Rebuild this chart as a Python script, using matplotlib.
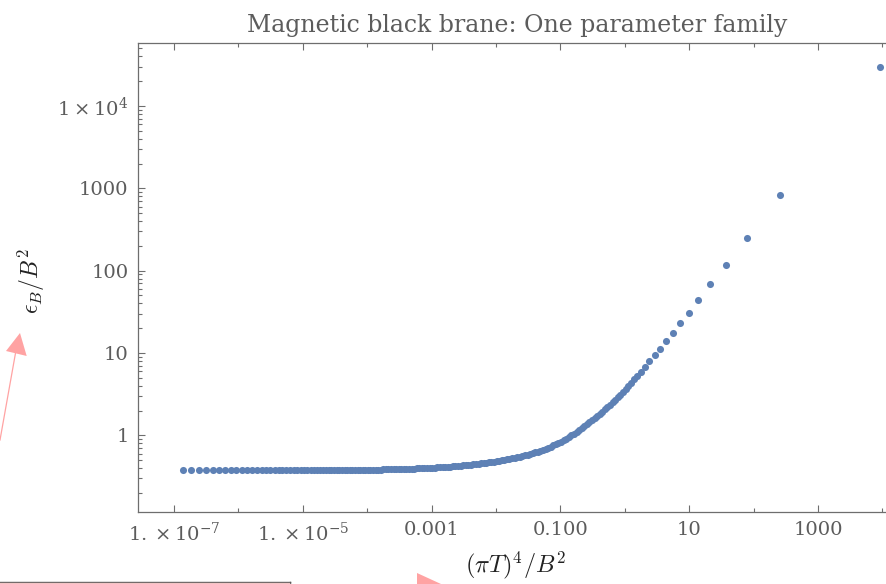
import matplotlib
matplotlib.use("Agg")
import matplotlib.pyplot as plt
from matplotlib.ticker import FixedLocator, LogLocator, NullFormatter
from matplotlib.patches import Polygon
from matplotlib.lines import Line2D

# (pi T)^4 / B^2 along the one-parameter family of magnetic black branes
temp_ratio = [
    # low temperature branch
    1.39e-7, 1.84e-7, 2.44e-7, 3.14e-7, 4.04e-7, 5.05e-7, 6.19e-7, 7.67e-7, 9.18e-7,
    1.12e-6, 1.35e-6, 1.63e-6, 1.95e-6, 2.29e-6, 2.69e-6, 3.13e-6, 3.64e-6, 4.20e-6,
    4.84e-6, 5.55e-6, 6.32e-6, 7.19e-6, 8.18e-6, 9.27e-6,
    1.04e-5, 1.17e-5, 1.32e-5, 1.47e-5, 1.64e-5, 1.83e-5, 2.04e-5, 2.26e-5, 2.51e-5,
    2.77e-5, 3.05e-5, 3.36e-5, 3.70e-5, 4.06e-5,
    4.45e-5, 4.90e-5, 5.37e-5, 5.89e-5, 6.46e-5, 7.08e-5, 7.76e-5, 8.51e-5, 9.33e-5,
    # crossover region
    1.02e-4, 1.12e-4, 1.23e-4, 1.35e-4, 1.48e-4, 1.62e-4, 1.78e-4, 1.95e-4, 2.14e-4,
    2.34e-4, 2.57e-4, 2.82e-4, 3.09e-4, 3.39e-4, 3.72e-4, 4.07e-4, 4.47e-4, 4.90e-4,
    5.37e-4, 5.89e-4, 6.46e-4, 7.08e-4, 7.76e-4, 8.51e-4, 9.33e-4,
    1.02e-3, 1.12e-3, 1.23e-3, 1.35e-3, 1.48e-3, 1.62e-3, 1.78e-3, 1.95e-3, 2.14e-3,
    2.34e-3, 2.57e-3, 2.82e-3, 3.09e-3, 3.39e-3, 3.72e-3, 4.07e-3, 4.47e-3, 4.90e-3,
    5.37e-3, 5.89e-3, 6.46e-3, 7.08e-3, 7.76e-3, 8.51e-3, 9.33e-3,
    1.02e-2, 1.12e-2, 1.23e-2, 1.35e-2, 1.48e-2, 1.62e-2, 1.78e-2, 1.95e-2, 2.14e-2,
    2.34e-2, 2.57e-2, 2.82e-2, 3.09e-2, 3.39e-2, 3.72e-2, 4.07e-2, 4.47e-2, 4.90e-2,
    5.37e-2, 5.89e-2, 6.46e-2, 7.08e-2, 7.76e-2, 8.51e-2, 9.33e-2,
    0.102, 0.112, 0.123, 0.135, 0.148, 0.162, 0.178, 0.195, 0.214,
    0.234, 0.257, 0.282, 0.309, 0.339, 0.372, 0.407, 0.447, 0.490,
    0.537, 0.589, 0.646, 0.708, 0.776, 0.851, 0.933,
    1.03, 1.14, 1.27, 1.41, 1.57,
    # high temperature branch
    1.77, 2.06, 2.40, 2.91, 3.52, 4.41, 5.60, 7.28, 9.82,
    13.9, 21.3, 37.3, 78.2, 260.0, 9270.0,
]

# epsilon_B / B^2 at the same points
energy_ratio = [
    0.3787, 0.3787, 0.3787, 0.3787, 0.3787, 0.3787, 0.3787, 0.3787, 0.3787,
    0.3787, 0.3787, 0.3787, 0.3787, 0.3787, 0.3787, 0.3787, 0.3787, 0.3787,
    0.3787, 0.3787, 0.3787, 0.3787, 0.3787, 0.3787,
    0.3788, 0.3788, 0.3789, 0.3790, 0.3791, 0.3793, 0.3794, 0.3795, 0.3797,
    0.3798, 0.3800, 0.3801, 0.3803, 0.3805,
    0.3807, 0.3808, 0.3810, 0.3812, 0.3813, 0.3815, 0.3817, 0.3819, 0.3821,
    0.3823, 0.3826, 0.3829, 0.3832, 0.3836, 0.3840, 0.3845, 0.3851, 0.3857,
    0.3863, 0.3870, 0.3877, 0.3885, 0.3894, 0.3902, 0.3912, 0.3922, 0.3932,
    0.3943, 0.3955, 0.3966, 0.3979, 0.3992, 0.4005, 0.4020,
    0.4034, 0.4050, 0.4067, 0.4085, 0.4105, 0.4125, 0.4147, 0.4170, 0.4195,
    0.4220, 0.4247, 0.4275, 0.4305, 0.4336, 0.4369, 0.4403, 0.4439, 0.4476,
    0.4516, 0.4558, 0.4601, 0.4647, 0.4695, 0.4745, 0.4798,
    0.4853, 0.4912, 0.4974, 0.5039, 0.5107, 0.5178, 0.5254, 0.5335, 0.5421,
    0.5513, 0.5611, 0.5715, 0.5825, 0.5942, 0.6067, 0.6203, 0.6351, 0.6511,
    0.6683, 0.6869, 0.7069, 0.7288, 0.7524, 0.7784, 0.8069,
    0.8381, 0.8721, 0.9096, 0.9505, 0.9954, 1.044, 1.097, 1.153, 1.215,
    1.282, 1.355, 1.435, 1.521, 1.614, 1.715, 1.823, 1.941, 2.069,
    2.207, 2.357, 2.521, 2.701, 2.899, 3.116, 3.355,
    3.639, 3.963, 4.353, 4.773, 5.267,
    5.88, 6.76, 7.93, 9.38, 11.3, 14.1, 17.6, 23.0, 30.9,
    44.4, 68.0, 117.0, 248.0, 832.0, 30100.0,
]

x_ticks = [1e-7, 1e-5, 1e-3, 1e-1, 1e1, 1e3]
x_tick_labels = [r"$1.\times10^{-7}$", r"$1.\times10^{-5}$", "0.001", "0.100", "10", "1000"]
x_minor = [1e-6, 1e-4, 1e-2, 1e0, 1e2, 1e4]
y_ticks = [1, 10, 100, 1000, 1e4]
y_tick_labels = ["1", "10", "100", "1000", r"$1\times10^{4}$"]

plt.rcParams["font.family"] = ["DejaVu Serif"]
plt.rcParams["mathtext.fontset"] = "custom"
plt.rcParams["mathtext.rm"] = "DejaVu Serif"
plt.rcParams["mathtext.it"] = "DejaVu Serif:italic"
plt.rcParams["mathtext.bf"] = "DejaVu Serif:bold"

W, H = 887, 584
frame_col = "#6e6e6e"
text_col = "#5c5c5c"
dot_col = "#5E81B5"

fig = plt.figure(figsize=(W / 100, H / 100), dpi=100)
ax = fig.add_axes([138.3 / W, 1 - 511.7 / H, (896.7 - 138.3) / W, (511.7 - 43) / H])

ax.plot(temp_ratio, energy_ratio, "o", ms=5.1, color=dot_col, mec="none")

ax.set_xscale("log")
ax.set_yscale("log")
ax.set_xlim(2.79e-8, 1.67e4)
ax.set_ylim(0.118, 5.83e4)

ax.set_xticks(x_ticks, x_tick_labels)
ax.xaxis.set_minor_locator(FixedLocator(x_minor))
ax.xaxis.set_minor_formatter(NullFormatter())
ax.set_yticks(y_ticks, y_tick_labels)
ax.yaxis.set_minor_locator(LogLocator(base=10, subs=range(2, 10)))
ax.yaxis.set_minor_formatter(NullFormatter())

ax.tick_params(which="both", direction="in", top=True, right=False,
               color=frame_col, labelcolor=text_col, labelsize=14, width=0.8)
ax.tick_params(which="major", length=5.2, pad=7)
ax.tick_params(which="minor", length=2.8)
for s in ax.spines.values():
    s.set_color(frame_col)
    s.set_linewidth(0.9)

fig.text(517.5 / W, 1 - 31.7 / H, "Magnetic black brane: One parameter family",
         ha="center", va="baseline", fontsize=17, color=text_col)
fig.text(516 / W, 1 - 565 / H, r"$(\pi T)^4/B^2$", ha="center", va="center",
         fontsize=17.5, color="#222222", math_fontfamily="cm")
fig.text(31 / W, 1 - 281 / H, r"$\epsilon_B/B^2$", ha="center", va="center",
         rotation=90, fontsize=17, color="#222222", math_fontfamily="cm")


def px(x, y):
    return (x / W, 1 - y / H)


# pink pointer marks drawn over the figure
pink = "#FFA3A3"
fig.add_artist(Line2D([0, 15.7 / W], [1 - 440 / H, 1 - 352 / H], color=pink, lw=0.9))
fig.add_artist(Polygon([px(20, 333), px(6, 351), px(26.7, 356)], closed=True,
                       transform=fig.transFigure, color=pink, lw=0))
fig.add_artist(Polygon([px(417, 573), px(441, 584), px(417, 584)], closed=True,
                       transform=fig.transFigure, color=pink, lw=0))
fig.add_artist(Line2D([0, 290 / W], [1 - 581.8 / H] * 2, color="#555555", lw=1.0))
fig.add_artist(Line2D([290 / W, 290 / W], [1 - 581.8 / H, 0], color="#555555", lw=1.0))
fig.add_artist(Line2D([0, 289 / W], [1 - 583.4 / H] * 2, color="#f2c4c4", lw=1.0))

fig.savefig("out.png", dpi=100)
